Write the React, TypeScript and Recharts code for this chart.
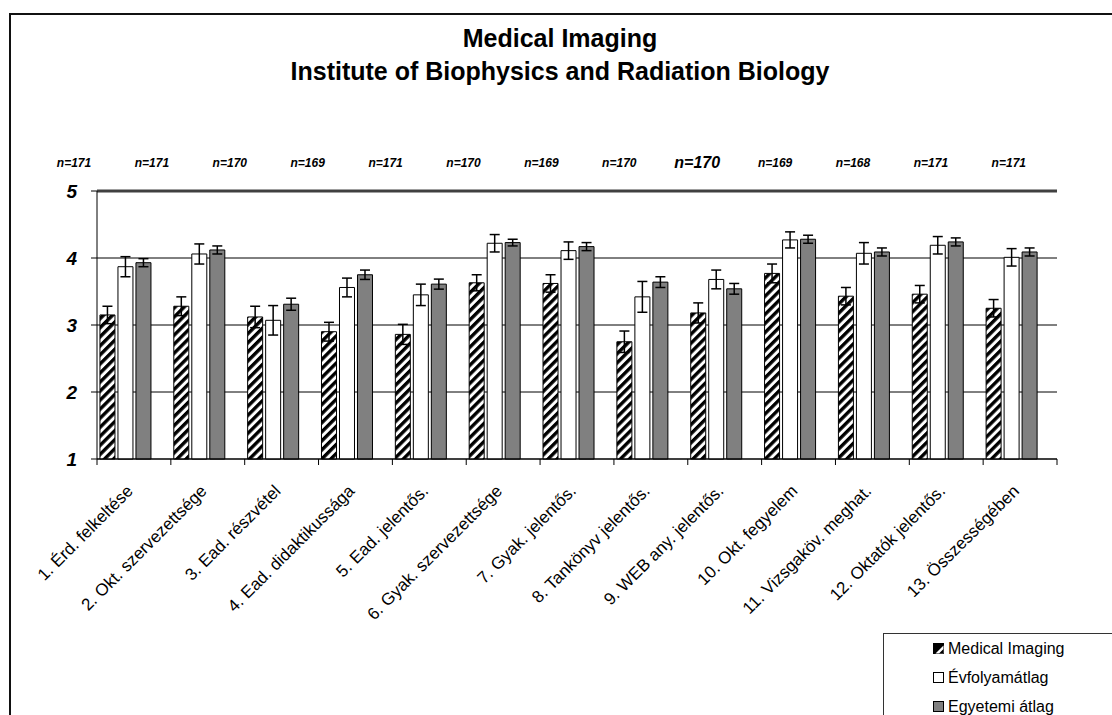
import React from "react";
import { BarChart, Bar, XAxis, YAxis, CartesianGrid, ErrorBar, ReferenceLine } from "recharts";

const categories = [
  "1. Érd. felkeltése",
  "2. Okt. szervezettsége",
  "3. Ead. részvétel",
  "4. Ead. didaktikussága",
  "5. Ead. jelentős.",
  "6. Gyak. szervezettsége",
  "7. Gyak. jelentős.",
  "8. Tankönyv jelentős.",
  "9. WEB any. jelentős.",
  "10. Okt. fegyelem",
  "11. Vizsgaköv. meghat.",
  "12. Oktatók jelentős.",
  "13. Összességében",
];

const medical = [3.15, 3.28, 3.12, 2.9, 2.86, 3.63, 3.62, 2.75, 3.18, 3.77, 3.43, 3.46, 3.25];
const medicalErr = [0.13, 0.14, 0.16, 0.14, 0.15, 0.12, 0.13, 0.16, 0.15, 0.14, 0.13, 0.13, 0.13];
const evfolyam = [3.87, 4.06, 3.07, 3.56, 3.45, 4.22, 4.11, 3.42, 3.68, 4.27, 4.07, 4.19, 4.01];
const evfolyamErr = [0.15, 0.15, 0.22, 0.14, 0.16, 0.13, 0.13, 0.23, 0.14, 0.12, 0.16, 0.13, 0.13];
const egyetemi = [3.93, 4.12, 3.31, 3.75, 3.61, 4.23, 4.17, 3.64, 3.54, 4.28, 4.09, 4.24, 4.09];
const egyetemiErr = [0.06, 0.06, 0.09, 0.07, 0.075, 0.05, 0.06, 0.08, 0.08, 0.06, 0.06, 0.06, 0.06];
const nValues = [171, 171, 170, 169, 171, 170, 169, 170, 170, 169, 168, 171, 171];
const yTicks = [1, 2, 3, 4, 5];

const data = categories.map((name, i) => ({
  name,
  medical: medical[i],
  medicalErr: medicalErr[i],
  evfolyam: evfolyam[i],
  evfolyamErr: evfolyamErr[i],
  egyetemi: egyetemi[i],
  egyetemiErr: egyetemiErr[i],
}));

const FONT = "'Liberation Sans', Arial, sans-serif";

function XTick(props: any) {
  const { x, y, payload, index } = props;
  const half = payload && typeof payload.offset === "number" && payload.offset > 0 ? payload.offset : 960 / 13 / 2;
  const last = index === categories.length - 1;
  return (
    <g>
      <line x1={x - half} y1={y} x2={x - half} y2={y + 6} stroke="#000" />
      {last && <line x1={x + half} y1={y} x2={x + half} y2={y + 6} stroke="#000" />}
      <text
        x={x}
        y={y + 33}
        transform={`rotate(-45, ${x}, ${y + 33})`}
        textAnchor="end"
        fontFamily={FONT}
        fontSize={17}
        fill="#000"
      >
        {payload.value}
      </text>
    </g>
  );
}

function YTick(props: any) {
  const { x, y, payload } = props;
  return (
    <text x={x} y={y + 7} textAnchor="end" fontFamily={FONT} fontSize={19} fontWeight="bold" fontStyle="italic" fill="#000">
      {payload.value}
    </text>
  );
}

export default function App() {
  return (
    <div style={{ position: "absolute", left: 0, top: 0, width: 1112, height: 715, overflow: "hidden", background: "#fff" }}>
      <svg width={0} height={0} style={{ position: "absolute" }}>
        <defs>
          <pattern id="hatch" patternUnits="userSpaceOnUse" width={6.4} height={6.4} patternTransform="rotate(45)">
            <rect x={0} y={0} width={6.4} height={6.4} fill="#fff" />
            <rect x={0} y={0} width={3.4} height={6.4} fill="#000" />
          </pattern>
        </defs>
      </svg>
      <div style={{ position: "absolute", left: 9, top: 13, width: 1300, height: 900, borderLeft: "2px solid #111", borderTop: "2px solid #111" }} />
      <div style={{ position: "absolute", left: 0, top: 22, width: 1120, textAlign: "center", fontFamily: FONT, fontWeight: "bold", fontSize: 25, lineHeight: "33px", color: "#000" }}>
        <div>Medical Imaging</div>
        <div>Institute of Biophysics and Radiation Biology</div>
      </div>
      {nValues.map((n, i) => (
        <div
          key={i}
          style={{
            position: "absolute",
            left: 74 + i * 77.9 - 40,
            top: i === 8 ? 154 : 156,
            width: 80,
            textAlign: "center",
            fontFamily: FONT,
            fontWeight: "bold",
            fontStyle: "italic",
            fontSize: i === 8 ? 16 : 12,
            color: "#000",
          }}
        >
          n={n}
        </div>
      ))}
      <div style={{ position: "absolute", left: 0, top: 0 }}>
        <BarChart
          width={1112}
          height={715}
          data={data}
          margin={{ top: 191, right: 55, left: 0, bottom: 226 }}
          barCategoryGap="4%"
          barGap={3}
        >
          <CartesianGrid vertical={false} stroke="#000" strokeWidth={1} />
          <XAxis
            dataKey="name"
            interval={0}
            height={30}
            tickSize={0}
            tickMargin={0}
            tickLine={false}
            axisLine={{ stroke: "#000" }}
            tick={<XTick />}
          />
          <YAxis
            type="number"
            domain={[1, 5]}
            ticks={yTicks}
            width={97}
            tickSize={6}
            tickMargin={14}
            axisLine={{ stroke: "#000" }}
            tickLine={{ stroke: "#000" }}
            tick={<YTick />}
          />
          <YAxis yAxisId="right" orientation="right" domain={[1, 5]} width={0} tick={false} tickLine={false} axisLine={{ stroke: "#000" }} />
          <ReferenceLine y={5} stroke="#404040" strokeWidth={3} />
          <Bar dataKey="medical" fill="url(#hatch)" stroke="#000" strokeWidth={1} isAnimationActive={false}>
            <ErrorBar dataKey="medicalErr" width={5} stroke="#000" strokeWidth={1.5} isAnimationActive={false} />
          </Bar>
          <Bar dataKey="evfolyam" fill="#fff" stroke="#000" strokeWidth={1} isAnimationActive={false}>
            <ErrorBar dataKey="evfolyamErr" width={5} stroke="#000" strokeWidth={1.5} isAnimationActive={false} />
          </Bar>
          <Bar dataKey="egyetemi" fill="#808080" stroke="#000" strokeWidth={1} isAnimationActive={false}>
            <ErrorBar dataKey="egyetemiErr" width={5} stroke="#000" strokeWidth={1.5} isAnimationActive={false} />
          </Bar>
          <Bar dataKey="spacer" fill="none" isAnimationActive={false} />
        </BarChart>
      </div>
      <div style={{ position: "absolute", left: 883, top: 633, width: 300, height: 150, border: "1px solid #333", background: "#fff", fontFamily: FONT, fontSize: 16, color: "#000" }}>
        {[
          { label: "Medical Imaging", fill: "hatchSwatch" },
          { label: "Évfolyamátlag", fill: "#fff" },
          { label: "Egyetemi átlag", fill: "#808080" },
        ].map((item, i) => (
          <div key={i} style={{ position: "absolute", left: 49, top: 5 + i * 29, height: 20, display: "flex", alignItems: "center", whiteSpace: "nowrap" }}>
            <svg width={12} height={12} style={{ marginRight: 3 }}>
              {item.fill === "hatchSwatch" ? (
                <g>
                  <rect x={0.5} y={0.5} width={10} height={10} fill="#000" stroke="#000" />
                  <polygon points="10.5,2.5 10.5,10.5 2.5,10.5" fill="#fff" />
                  <polygon points="10.5,6 10.5,10.5 6,10.5" fill="#000" />
                </g>
              ) : (
                <rect x={0.5} y={0.5} width={10} height={10} fill={item.fill} stroke="#000" />
              )}
            </svg>
            <span>{item.label}</span>
          </div>
        ))}
      </div>
    </div>
  );
}
